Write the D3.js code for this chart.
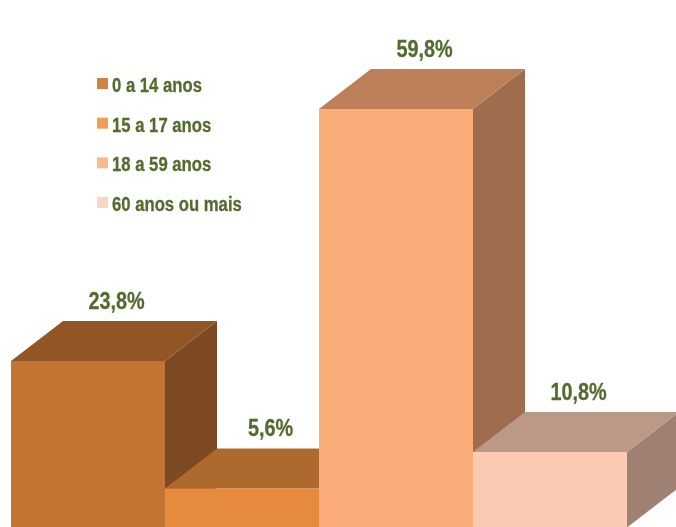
<!DOCTYPE html>
<html>
<head>
<meta charset="utf-8">
<style>
html,body{margin:0;padding:0;background:#fff;overflow:hidden}
svg{display:block}
text{font-family:"Liberation Sans",Arial,sans-serif;font-weight:700;fill:#556B2F;stroke:#556B2F;stroke-width:0.3}
</style>
<script src="https://cdn.jsdelivr.net/npm/d3@7/dist/d3.min.js"></script>
</head>
<body>
<svg id="c" width="676" height="527"></svg>
<script>
const categories = ["0 a 14 anos", "15 a 17 anos", "18 a 59 anos", "60 anos ou mais"];
const values = [23.8, 5.6, 59.8, 10.8];
const valueLabels = ["23,8%", "5,6%", "59,8%", "10,8%"];

const frontColors = ["#C27533", "#E68A3E", "#FAAC79", "#FBCAB3"];
const topColors = ["#925727", "#AE692F", "#BC7F59", "#BC9987"];
const sideColors = ["#7B4A20", "#9A5C2B", "#9F6D4E", "#9E8172"];
const legendColors = ["#CB8443", "#EF9F55", "#FDB98D", "#FDD5C3"];

const svg = d3.select("#c");
const defs = svg.append("defs");
defs.append("filter").attr("id", "soft").attr("x", "-5%").attr("y", "-5%").attr("width", "110%").attr("height", "110%")
  .append("feGaussianBlur").attr("stdDeviation", 0.45);
const root = svg.append("g").attr("filter", "url(#soft)");

const x = d3.scaleBand().domain(categories).range([11, 627]).padding(0);
const y = d3.scaleLinear().domain([0, 59.8]).range([527.6, 109]);
const depthX = 52, depthY = -40;
const line = d3.line();

const bars = root.selectAll("g.bar").data(categories).join("g").attr("class", "bar");
bars.each(function (c, i) {
  const g = d3.select(this);
  const x0 = x(c), x1 = x0 + x.bandwidth(), yt = y(values[i]), yb = y(0);
  g.append("path").attr("fill", sideColors[i]).attr("d", line([
    [x1, yt], [x1 + depthX, yt + depthY], [x1 + depthX, yb + depthY], [x1, yb]
  ]) + "Z");
  g.append("path").attr("fill", topColors[i]).attr("d", line([
    [x0, yt], [x0 + depthX, yt + depthY], [x1 + depthX, yt + depthY], [x1, yt]
  ]) + "Z");
  g.append("rect").attr("fill", frontColors[i])
    .attr("x", x0).attr("y", yt).attr("width", x.bandwidth()).attr("height", yb - yt);
});

root.selectAll("text.val").data(categories).join("text").attr("class", "val")
  .attr("transform", (c, i) =>
    `translate(${x(c) + x.bandwidth() / 2 + 28.5},${y(values[i]) + depthY - 12.5}) scale(0.81,1)`)
  .attr("text-anchor", "middle")
  .attr("font-size", 24.5)
  .text((c, i) => valueLabels[i]);

const legendY = d3.scalePoint().domain(categories).range([92, 211]);
root.selectAll("rect.leg").data(categories).join("rect").attr("class", "leg")
  .attr("x", 97).attr("y", c => legendY(c) - 14).attr("width", 11).attr("height", 11)
  .attr("fill", (c, i) => legendColors[i]);
root.selectAll("text.legt").data(categories).join("text").attr("class", "legt")
  .attr("transform", c => `translate(112,${legendY(c)}) scale(0.835,1)`)
  .attr("font-size", 20)
  .text(c => c);
</script>
</body>
</html>
